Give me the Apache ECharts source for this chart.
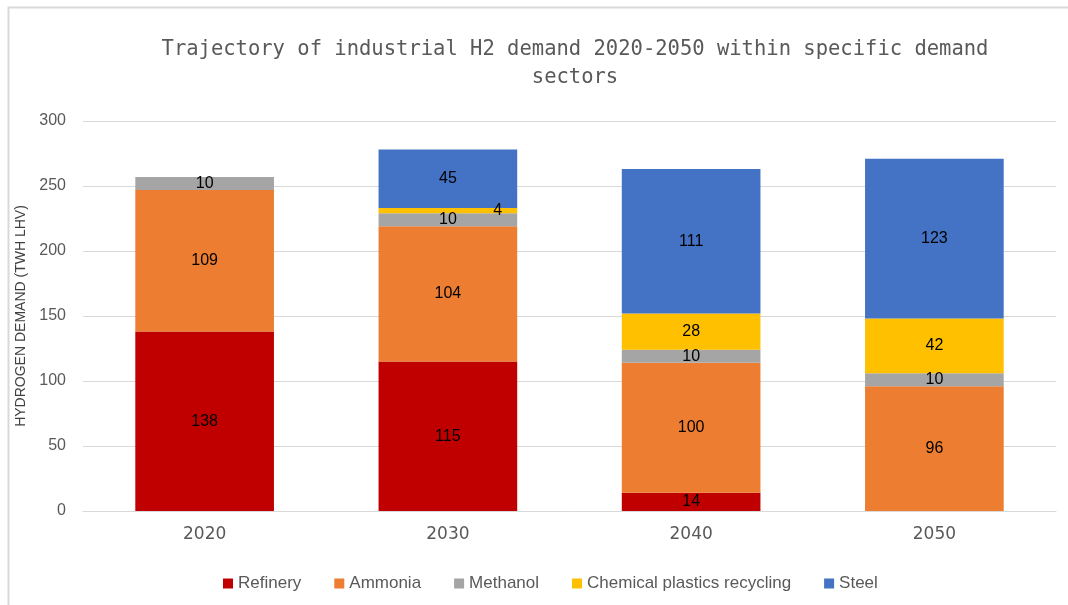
<!DOCTYPE html>
<html>
<head>
<meta charset="utf-8">
<title>Industrial H2 demand</title>
<script src="https://cdn.jsdelivr.net/npm/echarts@6/dist/echarts.min.js"></script>
<style>
  html, body { margin: 0; padding: 0; background: #fff; }
  #chart { width: 1068px; height: 605px; }
</style>
</head>
<body>
<div id="chart"></div>
<script>
// data (TWh LHV)
const years = ["2020", "2030", "2040", "2050"];
const refinery = [138, 115, 14, null];
const ammonia = [109, 104, 100, 96];
const methanol = [10, 10, 10, 10];
const chemical = [null, 4, 28, 42];
const steel = [null, 45, 111, 123];
const yTicks = [0, 50, 100, 150, 200, 250, 300];

const myChart = echarts.init(document.getElementById("chart"));

const labelStyle = {
  show: true,
  position: "inside",
  color: "#000",
  fontSize: 16,
  fontFamily: "Liberation Sans"
};

function makeSeries(name, data, color) {
  return {
    name: name,
    type: "bar",
    stack: "total",
    barWidth: "57%",
    data: data,
    itemStyle: { color: color },
    label: labelStyle
  };
}

const chemSeries = makeSeries("Chemical plastics recycling", chemical.map((v, i) => {
  // the small 2030 value sits at the right side of the bar
  if (i === 1) return { value: v, label: { position: "insideRight", offset: [-10, 0] } };
  return v;
}), "#FFC000");

myChart.setOption({
  animation: false,
  backgroundColor: "#fff",
  title: {
    text: "Trajectory of industrial H2 demand 2020-2050 within specific demand\nsectors",
    left: 570,
    textAlign: "center",
    top: 31,
    textStyle: {
      color: "#595959",
      fontSize: 20.5,
      fontWeight: "normal",
      fontFamily: "DejaVu Sans Mono",
      lineHeight: 28
    }
  },
  graphic: [
    {
      type: "polyline",
      silent: true,
      shape: { points: [[8.5, 605], [8.5, 7.5], [1068, 7.5]] },
      style: { stroke: "#d9d9d9", lineWidth: 2, fill: null }
    }
  ],
  grid: { left: 83, right: 12, top: 121, bottom: 94 },
  legend: {
    bottom: 8,
    left: 218,
    itemWidth: 10,
    itemHeight: 10,
    itemGap: 33,
    icon: "rect",
    textStyle: { color: "#595959", fontSize: 17, fontFamily: "Liberation Sans" },
    data: ["Refinery", "Ammonia", "Methanol", "Chemical plastics recycling", "Steel"]
  },
  xAxis: {
    type: "category",
    data: years,
    axisLine: { lineStyle: { color: "#d9d9d9" } },
    axisTick: { show: false },
    axisLabel: {
      color: "#595959",
      fontSize: 17,
      margin: 15,
      fontFamily: "DejaVu Sans"
    }
  },
  yAxis: {
    type: "value",
    min: yTicks[0],
    max: yTicks[yTicks.length - 1],
    interval: 50,
    name: "HYDROGEN DEMAND (TWH LHV)",
    nameLocation: "middle",
    nameGap: 50,
    nameTextStyle: { color: "#404040", fontSize: 14, fontFamily: "Liberation Sans" },
    axisLine: { show: false },
    axisTick: { show: false },
    axisLabel: { color: "#595959", fontSize: 16, margin: 17, fontFamily: "Liberation Sans" },
    splitLine: { lineStyle: { color: "#d9d9d9" } }
  },
  series: [
    makeSeries("Refinery", refinery, "#C00000"),
    makeSeries("Ammonia", ammonia, "#ED7D31"),
    makeSeries("Methanol", methanol, "#A5A5A5"),
    chemSeries,
    makeSeries("Steel", steel, "#4472C4")
  ]
});

window.addEventListener("resize", () => {
  myChart.resize();
});
</script>
</body>
</html>
